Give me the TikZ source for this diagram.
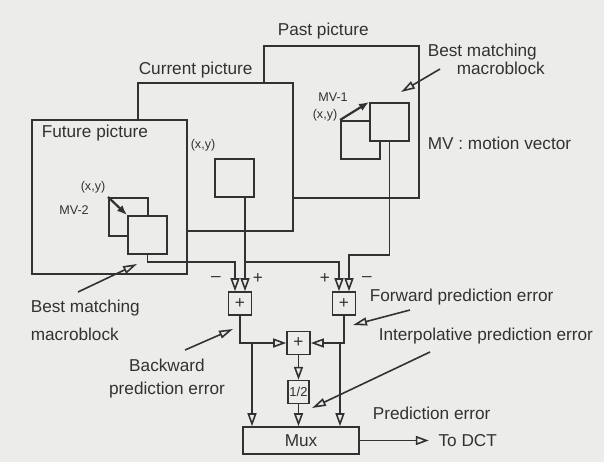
\documentclass[tikz,border=0pt]{standalone}
\usepackage{fontspec}
\setmainfont{Liberation Sans}
\usetikzlibrary{arrows.meta,positioning}
\definecolor{paper}{RGB}{236,236,234}
\definecolor{ink}{RGB}{50,50,50}
\tikzset{%
  frame/.style={draw,fill=paper,anchor=north west,inner sep=0pt,minimum width=77.5pt},
  blk/.style={draw,fill=paper,anchor=north west,inner sep=0pt,minimum width=19.5pt,minimum height=19pt},
  sig/.style={-{Triangle[open,length=6.5pt,width=4.5pt]}},
  ptr/.style={-{Triangle[open,length=7pt,width=4pt]}},
  mv/.style={-{Latex[length=5pt,width=4pt]},line width=1.1pt}%
}

\begin{document}
\begin{tikzpicture}[
    x=0.5pt, y=-0.5pt,
    line width=0.8pt, color=ink,
    font=\fontsize{8.6}{10}\selectfont,
    lbl/.style={inner sep=0pt, anchor=west},
    tiny/.style={inner sep=0pt, font=\fontsize{6.3}{7}\selectfont},
    sign/.style={inner sep=0pt},
    op/.style={draw, fill=paper, inner sep=0pt, minimum width=11.5pt, minimum height=11.5pt}
]
\fill[paper] (0,0) rectangle (604,462);

% the three pictures, back to front
\node[frame, minimum height=76pt] (past) at (263,45) {};
\node[frame, minimum height=74pt] (current) at (137,82) {};
\node[frame, minimum height=77pt] (future) at (31,119) {};

\node[lbl, above right=2.7pt and 7pt of past.north west] (pastlbl) {Past picture};
\node[lbl, above right=1.7pt and 0.5pt of current.north west] (curlbl) {Current picture};
\node[lbl, below right=2.75pt and 5pt of future.north west] (futlbl) {Future picture};

% macroblocks
\node[blk] (pastorig) at (340,120) {};
\node[blk] (pastbest) at (369,102) {};
\node[blk] (curblk) at (214,158) {};
\node[blk] (futorig) at (108,197) {};
\node[blk] (futbest) at (127,215) {};

\draw[mv] (futorig.north west) -- (futbest.north west);
\draw[mv] (pastorig.north west) -- (pastbest.north west);

\node[tiny] (xyfut) at (93,187) {(x,y)};
\node[tiny] (mv2) at (74,210) {MV-2};
\node[tiny] (xycur) at (203,145) {(x,y)};
\node[tiny] (xypast) at (325,115) {(x,y)};
\node[tiny] (mv1) at (333,97) {MV-1};

% adders, halving and mux
\node[op] (addb) at (240,303.5) {+};
\node[op] (addf) at (344,303.5) {+};
\node[op] (addi) at (298.5,343) {+};
\node[op, minimum width=10.5pt, font=\fontsize{6.5}{7}\selectfont, below=12.25pt of addi] (half) {1/2};
\node[op, minimum width=58pt, minimum height=13.5pt] (mux) at (301,440.5) {Mux};
\node[lbl, inner xsep=4.5pt, right=34.5pt of mux] (dct) {To DCT};

\node[sign] (bminus) at (216,279) {–};
\node[sign] (bplus) at (258,279) {+};
\node[sign] (fplus) at (325,279) {+};
\node[sign] (fminus) at (367,279) {–};

\coordinate (bm) at ([xshift=-2.5pt]addb.north);
\coordinate (bp) at ([xshift=2.5pt]addb.north);
\coordinate (fp) at ([xshift=-2.5pt]addf.north);
\coordinate (fm) at ([xshift=2.5pt]addf.north);
\coordinate (bus) at (0,262);
\coordinate (pbus) at (0,255);

\draw[sig] (futbest.south) |- (bus -| bm) -- (bm);
\draw[sig] (curblk.south -| bp) -- (bp);
\draw[sig] (bus -| bp) -| (fp);
\draw[sig] (pastbest.south) |- (pbus -| fm) -- (fm);

\draw[sig] (addb.south) |- (addi.west);
\draw[sig] (addf.south) |- (addi.east);
\path (addb.south |- addi.west) ++(6pt,0) coordinate (jb);
\path (addf.south |- addi.east) ++(-2pt,0) coordinate (jf);
\draw[sig] (jb) -- (jb |- mux.north);
\draw[sig] (jf) -- (jf |- mux.north);
\draw[sig] (addi) -- (half);
\draw[sig] (half) -- (half |- mux.north);
\draw[sig] (mux) -- (dct);

% labels and pointers
\node[lbl, anchor=north west, align=left, font=\fontsize{8.6}{9}\selectfont] (bmup) at (427,43.5)
{Best matching\\\hspace*{14.5pt}macroblock};
\node[lbl] (mvtxt) at (427,143) {MV : motion vector};
\node[lbl, anchor=north west, align=left, font=\fontsize{8.6}{14}\selectfont] (bmlow) at (30,299.5)
{Best matching\\macroblock};
\node[lbl, anchor=north, align=center, font=\fontsize{8.6}{11.5}\selectfont] (back) at (167,358.5)
{Backward\\prediction error};
\node[lbl] (fwd) at (369,297) {Forward prediction error};
\node[lbl] (interp) at (378,336) {Interpolative prediction error};
\node[lbl] (prederr) at (372,413) {Prediction error};

\coordinate (bmupfrom) at (440,69);
\coordinate (bmupto) at (401,92);
\coordinate (bmlowfrom) at (78,292);
\coordinate (bmlowto) at (137,264);
\coordinate (backfrom) at (185,350);
\coordinate (backto) at (233,329);
\coordinate (fwdfrom) at (410,310);
\coordinate (fwdto) at (353,325);
\coordinate (interpfrom) at (430,352);
\coordinate (interpto) at (312,408);

\draw[ptr] (bmupfrom) -- (bmupto);
\draw[ptr] (bmlowfrom) -- (bmlowto);
\draw[ptr] (backfrom) -- (backto);
\draw[ptr] (fwdfrom) -- (fwdto);
\draw[ptr] (interpfrom) -- (interpto);

\end{tikzpicture}
\end{document}
